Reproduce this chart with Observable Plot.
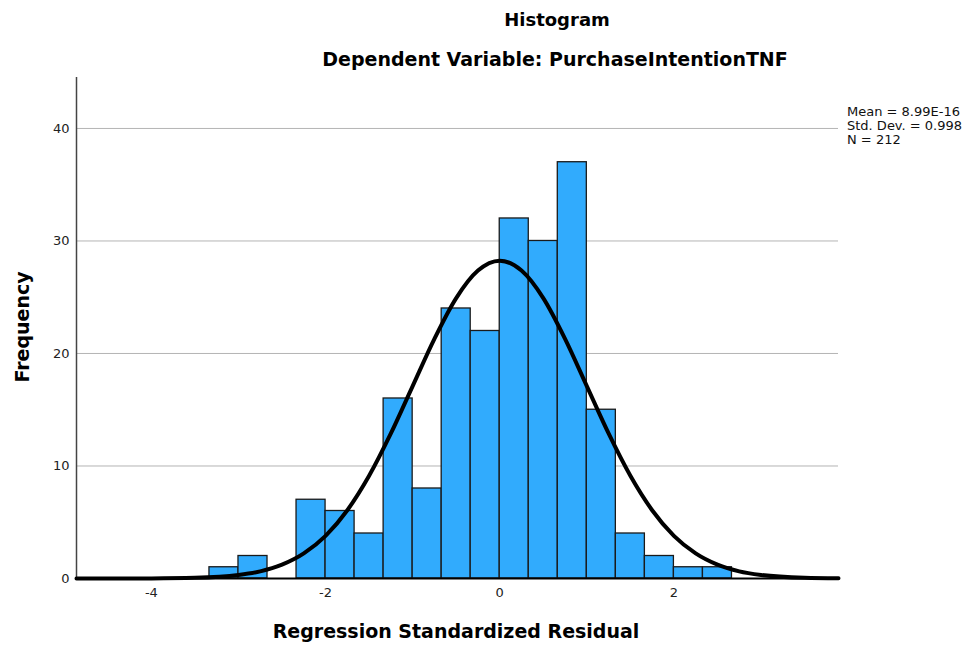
<!DOCTYPE html>
<html>
<head>
<meta charset="utf-8">
<script src="https://cdn.jsdelivr.net/npm/d3@7"></script>
<script src="https://cdn.jsdelivr.net/npm/@observablehq/plot@0.6"></script>
<style>
  body { margin: 0; background: #fff; }
  #wrap { position: relative; width: 974px; height: 645px; font-family: "DejaVu Sans", sans-serif; color: #000; }
  .t { position: absolute; white-space: nowrap; }
  .title { font-weight: bold; transform: translateX(-50%); }
  .axlab { font-weight: bold; font-size: 19px; }
  .leg { font-size: 13px; line-height: 15px; color: #111; }
</style>
</head>
<body>
<div id="wrap"></div>
<script>
// Histogram bins (bin width 1/3)
const binLo = [-10/3, -3, -8/3, -7/3, -2, -5/3, -4/3, -1, -2/3, -1/3, 0, 1/3, 2/3, 1, 4/3, 5/3, 2, 7/3];
const binHi = binLo.map(v => v + 1/3);
const counts = [1, 2, 0, 7, 6, 4, 16, 8, 24, 22, 32, 30, 37, 15, 4, 2, 1, 1];

// Normal curve
const curveX = [-4.86, -4.5, -4, -3.5, -3, -2.75, -2.5, -2.25, -2, -1.75, -1.5, -1.25, -1, -0.75, -0.5, -0.25, 0,
                0.25, 0.5, 0.75, 1, 1.25, 1.5, 1.75, 2, 2.25, 2.5, 2.75, 3, 3.5, 3.89];
const curveY = [0, 0.002, 0.01, 0.06, 0.31, 0.63, 1.23, 2.23, 3.79, 6.07, 9.13, 12.89, 17.1, 21.3, 24.92, 27.37, 28.25,
                27.37, 24.92, 21.3, 17.1, 12.89, 9.13, 6.07, 3.79, 2.23, 1.23, 0.63, 0.31, 0.06, 0.014];

const yTicks = [0, 10, 20, 30, 40];
const xTicks = [-4, -2, 0, 2];
const legendLines = ["Mean = 8.99E-16", "Std. Dev. = 0.998", "N = 212"];

const bars = counts.map((c, i) => ({x1: binLo[i], x2: binHi[i], y: c})).filter(d => d.y > 0);
const curve = curveX.map((x, i) => ({x, y: curveY[i]}));

const chart = Plot.plot({
  width: 974,
  height: 645,
  marginLeft: 76,
  marginRight: 136,
  marginTop: 77,
  marginBottom: 67,
  style: {fontFamily: "DejaVu Sans, sans-serif", fontSize: "13px", color: "#222", background: "#fff"},
  x: {domain: [-4.86, 3.89], ticks: xTicks},
  y: {domain: [0, 44.53], ticks: yTicks},
  marks: [
    Plot.gridY(yTicks.filter(d => d > 0), {stroke: "#b4b4b4", strokeOpacity: 1, strokeWidth: 1}),
    Plot.axisY({ticks: yTicks, tickSize: 0, tickPadding: 7, label: null, fontSize: 13}),
    Plot.axisX({ticks: xTicks, tickSize: 0, tickPadding: 9, label: null, fontSize: 13, tickFormat: d => d < 0 ? "-" + Math.abs(d) : String(d)}),
    Plot.rectY(bars, {x1: "x1", x2: "x2", y: "y", fill: "#31abfd", stroke: "#1a1a1a", strokeWidth: 1.3, inset: 0}),
    Plot.ruleX([-4.86], {stroke: "#444", strokeWidth: 1.5}),
    Plot.ruleY([0], {stroke: "#000", strokeWidth: 2}),
    Plot.line(curve, {x: "x", y: "y", stroke: "#000", strokeWidth: 4, curve: "monotone-x"})
  ]
});

const wrap = document.getElementById("wrap");
wrap.appendChild(chart);
chart.style.position = "absolute";
chart.style.left = "0px";
chart.style.top = "0px";

function addText(cls, txt, left, top, extra) {
  const d = document.createElement("div");
  d.className = "t " + cls;
  d.textContent = txt;
  d.style.left = left + "px";
  d.style.top = top + "px";
  if (extra) Object.assign(d.style, extra);
  wrap.appendChild(d);
  return d;
}
addText("title", "Histogram", 557, 9, {fontSize: "18px"});
addText("title", "Dependent Variable: PurchaseIntentionTNF", 555, 48, {fontSize: "19px"});
addText("axlab", "Regression Standardized Residual", 456, 620, {transform: "translateX(-50%)"});
addText("axlab", "Frequency", 22, 327, {transform: "translate(-50%,-50%) rotate(-90deg)"});
legendLines.forEach((s, i) => addText("leg", s, 847, 104 + i * 14));
</script>
</body>
</html>
